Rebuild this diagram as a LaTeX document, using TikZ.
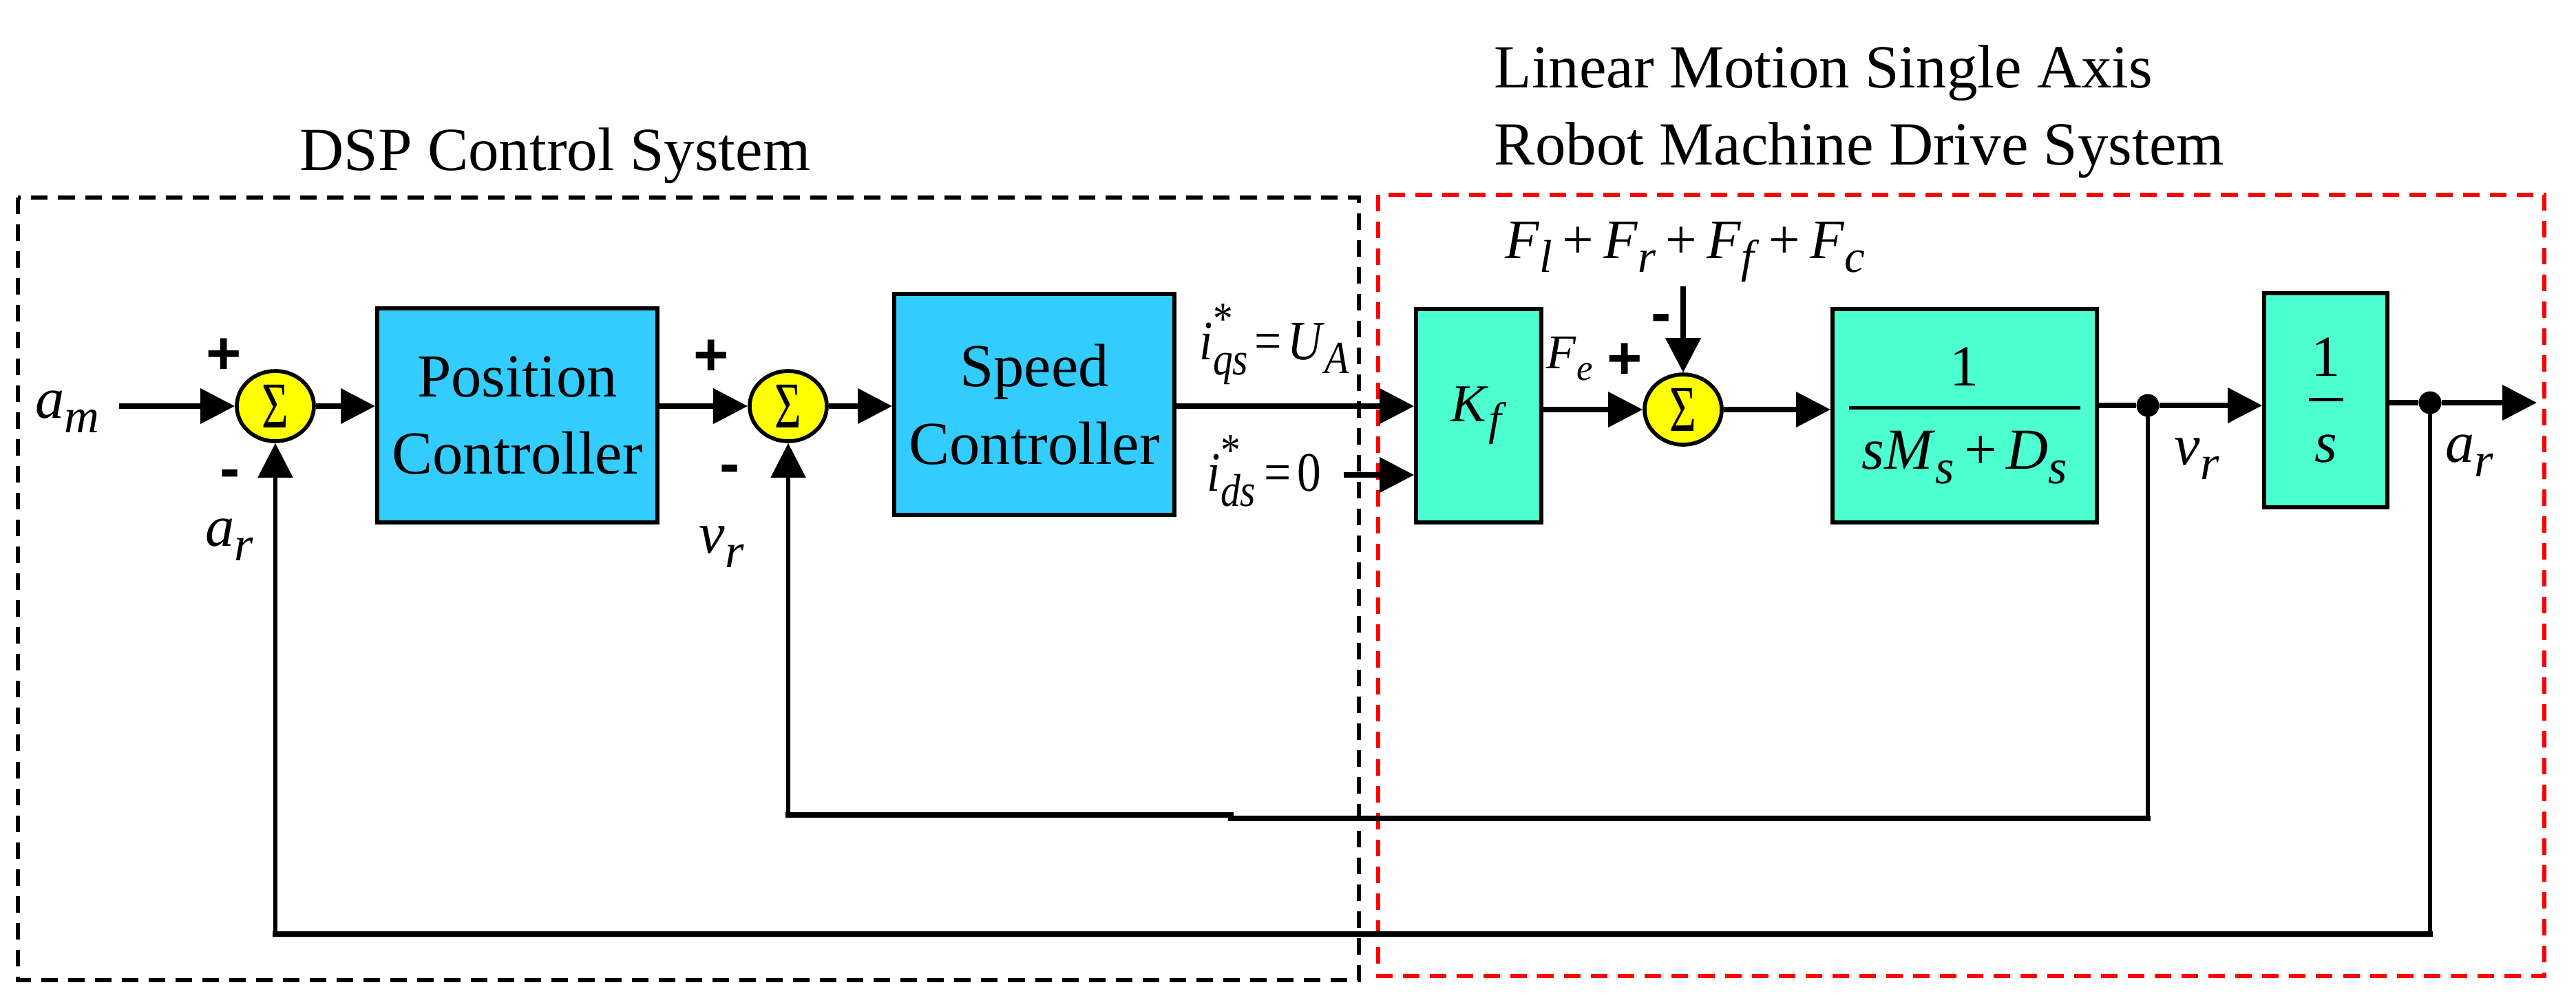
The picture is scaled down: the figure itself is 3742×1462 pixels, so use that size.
\documentclass[tikz,border=0pt]{standalone}
\usepackage{fontspec}
\setmainfont{Liberation Serif}
\newfontfamily\pmfont{Liberation Sans}
\usepackage{graphicx}
\usetikzlibrary{arrows.meta,shapes.geometric,calc}
\definecolor{boxblue}{RGB}{51,204,255}
\definecolor{boxgreen}{RGB}{77,255,208}
\definecolor{sumyellow}{RGB}{255,255,0}
\newcommand\Sb[3][20]{\textit{#2}\raisebox{-0.25em}{\fontsize{#1}{#1}\selectfont\textit{#3}}}
\newcommand\FracBox[5]{\vbox{\hbox to #1{\hfil#2\hfil}\kern#4\hrule height 1.3pt\kern#5\hbox to #1{\hfil#3\hfil}}}
\newcommand\Sig{\scalebox{0.7}[1]{\fontsize{27}{27}\selectfont Σ}}
\newcommand\Cur[1]{\textit{i}\rlap{\raisebox{10.5pt}{\fontsize{19}{19}\selectfont *}}\raisebox{-0.28em}{\fontsize{19}{19}\selectfont\textit{#1}}}
\begin{document}
\begin{tikzpicture}[x=0.01cm,y=-0.01cm,
  ctrl/.style={draw, line width=1.6pt, fill=boxblue, minimum width=4.07cm, minimum height=3.11cm, inner sep=0, align=center, font=\fontsize{25.2}{32}\selectfont},
  plantb/.style={draw, line width=1.6pt, fill=boxgreen, inner sep=0, font=\fontsize{24}{28}\selectfont},
  sumn/.style={ellipse, draw, line width=1.6pt, fill=sumyellow, minimum width=1.12cm, minimum height=1.02cm, inner sep=0},
  conn/.style={line width=2.1pt, -{Triangle[length=0.5cm,width=0.5cm]}},
  plain/.style={line width=2.1pt},
  fbv/.style={line width=1.5pt, line cap=rect},
  fbh/.style={line width=2.1pt, line cap=rect},
  fbarrow/.style={line width=1.5pt, -{Triangle[length=0.5cm,width=0.5cm]}},
  lab/.style={inner sep=0, anchor=base west, font=\fontsize{24}{28}\selectfont},
  sgn/.style={inner sep=0, font=\pmfont\bfseries\fontsize{25}{25}\selectfont},
  title/.style={inner sep=0, anchor=base west, font=\fontsize{25.3}{30}\selectfont},
  dot/.style={circle, fill, inner sep=0, minimum size=0.33cm},
  dashbox/.style={line width=1.5pt, dash pattern=on 0.24cm off 0.15cm}
]
\useasboundingbox (0,0) rectangle (3742,1462);
% system frames
\draw[dashbox, black] (26,287) rectangle (1974,1424);
\draw[dashbox, red] (2002,283) rectangle (3696,1418);
% titles
\node[title] (t1) at (435,247) {DSP Control System};
\node[title] (t2) at (2170,127) {Linear Motion Single Axis};
\node[title] (t3) at (2170,239) {Robot Machine Drive System};
% blocks
\node[sumn] (s1) at (400,590) {\Sig};
\node[ctrl] (pos) at (751.5,603.5) {Position\\Controller};
\node[sumn] (s2) at (1145,590) {\Sig};
\node[ctrl, minimum height=3.21cm] (spd) at (1502.5,587.5) {Speed\\Controller};
\node[plantb, minimum width=1.82cm, minimum height=3.10cm, font=\fontsize{22}{26}\selectfont] (kf) at (2148,604) {\raisebox{3pt}{\Sb[19]{K}{f}}};
\node[sumn] (s3) at (2445,595) {\Sig};
\node[plantb, minimum width=3.84cm, minimum height=3.10cm] (plant) at (2854,604) {\FracBox{3.35cm}{1}{\textit{s}\Sb{M}{s}\hspace{4pt}+\hspace{4pt}\Sb{D}{s}}{8.5pt}{9pt}};
\node[plantb, minimum width=1.79cm, minimum height=3.11cm] (integ) at (3378.5,581.5) {\FracBox{0.5cm}{1}{\textit{s}}{9pt}{14pt}};
\node[dot] (d1) at (3120,589) {};
\node[dot] (d2) at (3530,585) {};
% free ends and bends
\coordinate (amin) at (173,590);
\coordinate (out) at (3685,585);
\coordinate (dist) at (2445,416);
\coordinate (ids) at (1952,690);
\coordinate (fb1a) at (3120,1189);
\coordinate (fb1b) at (1788,1189);
\coordinate (fb1c) at (1788,1184);
\coordinate (fb1d) at (1145,1184);
\coordinate (fb2a) at (3530,1357);
\coordinate (fb2b) at (400,1357);
% forward path
\draw[conn] (amin) -- (s1.west);
\draw[conn] (s1.east) -- (s1.east -| pos.west);
\draw[conn] (pos.east |- s2.west) -- (s2.west);
\draw[conn] (s2.east) -- (s2.east -| spd.west);
\draw[conn] (spd.east |- s2.east) -- (kf.west |- s2.east);
\draw[conn] (ids) -- (ids -| kf.west);
\draw[conn] (kf.east |- s3.west) -- (s3.west);
\draw[conn] (s3.east) -- (s3.east -| plant.west);
\draw[plain] (plant.east |- d1) -- (d1);
\draw[conn] (d1) -- (d1 -| integ.west);
\draw[plain] (integ.east |- d2) -- (d2);
\draw[conn] (d2) -- (out);
\draw[conn] (dist) -- (s3.north);
% feedback paths
\draw[fbv] (d1) -- (fb1a);
\draw[fbh] (fb1a) -- (fb1b);
\draw[fbh] (fb1c) -- (fb1d);
\draw[fbarrow] (fb1d) -- (s2.south);
\draw[fbv] (d2) -- (fb2a);
\draw[fbh] (fb2a) -- (fb2b);
\draw[fbarrow] (fb2b) -- (s1.south);
% signal labels
\node[lab] (lam) at (51,607) {\Sb{a}{m}};
\node[lab] (lar1) at (298,793) {\Sb{a}{r}};
\node[lab] (lvr1) at (1015,803) {\Sb{v}{r}};
\node[lab] (lvr2) at (3158,675) {\Sb{v}{r}};
\node[lab] (lar2) at (3552,671) {\Sb{a}{r}};
\node[lab, font=\fontsize{23}{26}\selectfont] (liqs) at (1742,522) {\scalebox{0.86}[1]{\Cur{qs}\hspace{3pt}=\hspace{3pt}\Sb[19]{U}{A}}};
\node[lab, font=\fontsize{23}{26}\selectfont] (lids) at (1753,713) {\scalebox{0.86}[1]{\Cur{ds}\hspace{4pt}=\hspace{3pt}0}};
\node[lab, font=\fontsize{20}{24}\selectfont] (lfe) at (2246,535) {\Sb[15]{F}{e}};
\node[lab, font=\fontsize{23}{26}\selectfont] (ldist) at (2186,375) {\Sb[19]{F}{l}\hspace{4pt}+\hspace{4pt}\Sb[19]{F}{r}\hspace{4pt}+\hspace{4pt}\Sb[19]{F}{f}\hspace{4pt}+\hspace{4pt}\Sb[19]{F}{c}};
% signs
\node[sgn] (p1) at (325,518) {+};
\node[sgn] (m1) at (334,696) {-};
\node[sgn] (p2) at (1033,520) {+};
\node[sgn] (m2) at (1060,689) {-};
\node[sgn] (p3) at (2360,525) {+};
\node[sgn] (m3) at (2413,470) {-};
\end{tikzpicture}
\end{document}
